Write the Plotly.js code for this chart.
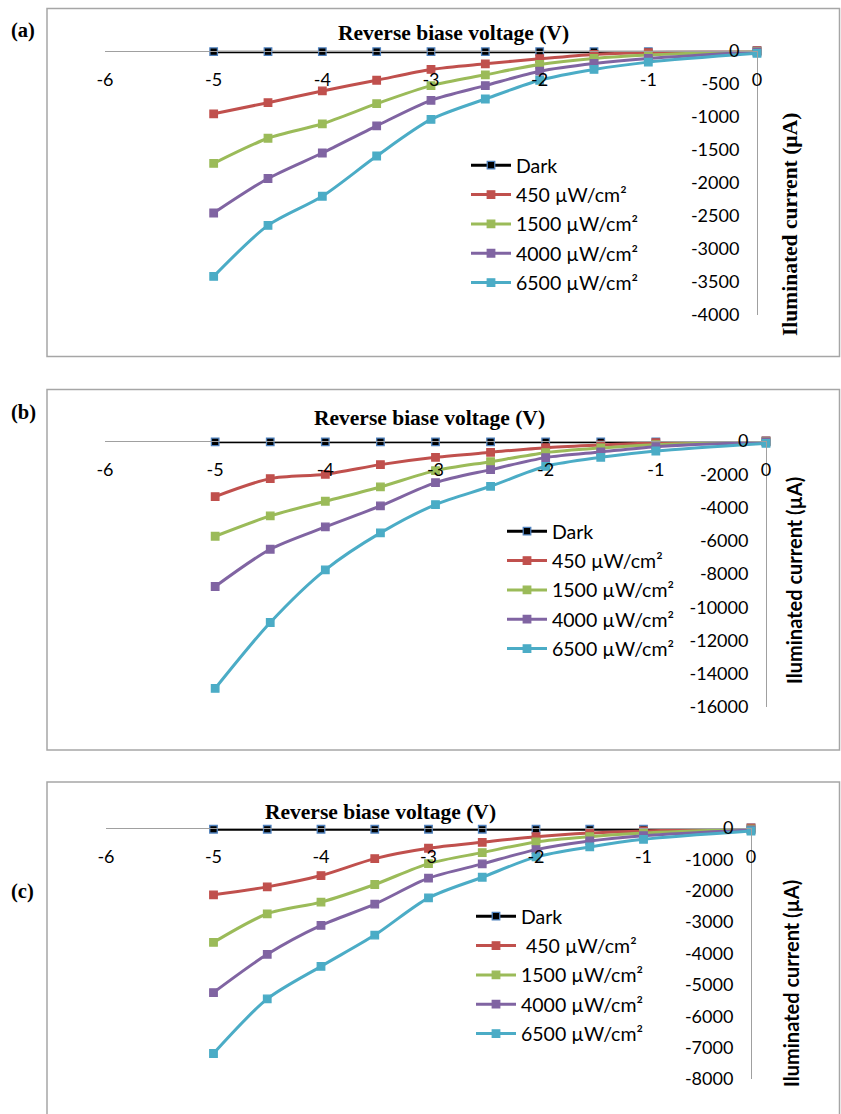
<!DOCTYPE html>
<html>
<head>
<meta charset="utf-8">
<script src="https://cdn.plot.ly/plotly-3.0.1.min.js"></script>
<style>html,body{margin:0;padding:0;background:#fff;}#chart{width:841px;height:1114px;}</style>
</head>
<body>
<div id="chart"></div>
<script>
// ---- data ----
const voltage = [-5, -4.5, -4, -3.5, -3, -2.5, -2, -1.5, -1, 0];
const seriesNames = ['Dark', '450 µW/cm²', '1500 µW/cm²', '4000 µW/cm²', '6500 µW/cm²'];
const seriesNamesC = ['Dark', '\u00a0450 µW/cm²', '1500 µW/cm²', '4000 µW/cm²', '6500 µW/cm²'];

const aDark = [-15, -15, -15, -15, -15, -15, -15, -15, -15, 0];
const a450  = [-955, -787, -609, -447, -284, -198, -122, -56, -28, 0];
const a1500 = [-1705, -1325, -1106, -802, -528, -365, -208, -117, -66, -10];
const a4000 = [-2456, -1934, -1548, -1137, -751, -528, -310, -193, -117, -20];
const a6500 = [-3416, -2644, -2203, -1594, -1040, -731, -447, -284, -173, -40];

const bDark = [-50, -50, -50, -50, -50, -50, -50, -50, -50, 0];
const b450  = [-3345, -2263, -2003, -1422, -981, -681, -400, -240, -100, 0];
const b1500 = [-5728, -4507, -3625, -2764, -1783, -1242, -701, -421, -220, -40];
const b4000 = [-8753, -6510, -5168, -3906, -2504, -1723, -1001, -661, -340, -60];
const b6500 = [-14882, -10916, -7752, -5528, -3826, -2724, -1522, -981, -601, -140];

const cDark = [-40, -40, -40, -40, -40, -40, -40, -40, -40, 0];
const c450  = [-2130, -1876, -1515, -975, -646, -456, -276, -159, -95, 0];
const c1500 = [-3645, -2734, -2363, -1801, -1134, -784, -445, -276, -159, -40];
const c4000 = [-5245, -4026, -3105, -2427, -1600, -1145, -689, -413, -244, -60];
const c6500 = [-7187, -5448, -4410, -3413, -2226, -1569, -922, -604, -360, -95];

const xTickVals = [-6, -5, -4, -3, -2, -1, 0];
const xTickText = ['-6', '-5', '-4', '-3', '-2', '-1', '0'];
const aYTickVals = [0, -500, -1000, -1500, -2000, -2500, -3000, -3500, -4000];
const aYTickText = ['0', '-500', '-1000', '-1500', '-2000', '-2500', '-3000', '-3500', '-4000'];
const bYTickVals = [0, -2000, -4000, -6000, -8000, -10000, -12000, -14000, -16000];
const bYTickText = ['0', '-2000', '-4000', '-6000', '-8000', '-10000', '-12000', '-14000', '-16000'];
const cYTickVals = [0, -1000, -2000, -3000, -4000, -5000, -6000, -7000, -8000];
const cYTickText = ['0', '-1000', '-2000', '-3000', '-4000', '-5000', '-6000', '-7000', '-8000'];

const xTitle = 'Reverse biase voltage (V)';
const yTitle = 'Iluminated current (µA)';
const panelLabels = ['(a)', '(b)', '(c)'];

// ---- styles ----
const W = 841, H = 1114;
const px = v => v / W;
const py = v => 1 - v / H;
const colors = ['#000000', '#C0504D', '#9BBB59', '#8064A2', '#4BACC6'];
const markerLine = ['#4F81BD', '#C0504D', '#9BBB59', '#8064A2', '#4BACC6'];

function makeTraces(sets, names, xa, ya, leg, grp) {
  return sets.map((ys, i) => ({
    type: 'scatter', mode: 'lines+markers',
    x: voltage, y: ys, xaxis: xa, yaxis: ya,
    name: names[i], legend: leg, legendgroup: grp + i,
    line: {color: colors[i], width: 3, shape: 'spline', smoothing: 0.8},
    marker: {symbol: 'square', size: 7.5, color: colors[i], line: {color: markerLine[i], width: 1.3}},
    cliponaxis: false
  }));
}

const data = [].concat(
  makeTraces([aDark, a450, a1500, a4000, a6500], seriesNames, 'x', 'y', 'legend', 'a'),
  makeTraces([bDark, b450, b1500, b4000, b6500], seriesNames, 'x2', 'y2', 'legend2', 'b'),
  makeTraces([cDark, c450, c1500, c4000, c6500], seriesNamesC, 'x3', 'y3', 'legend3', 'c')
);

const tickFont = {family: 'Lato, sans-serif', size: 18, color: '#000'};
function xAxis(x0, x1, yline) {
  return {domain: [px(x0), px(x1)], range: [-6, 0], anchor: 'free', position: py(yline), side: 'bottom',
    showline: true, linecolor: '#a0a0a0', linewidth: 1.2, showgrid: false, zeroline: false, ticks: '',
    tickmode: 'array', tickvals: xTickVals, ticktext: xTickText, tickfont: tickFont, ticklabelstandoff: 12, fixedrange: true};
}
function yAxis(y0, y1, xline, rng, tv, tt) {
  return {domain: [py(y1), py(y0)], range: rng, anchor: 'free', position: px(xline), side: 'left',
    showline: true, linecolor: '#a0a0a0', linewidth: 1.2, showgrid: false, zeroline: false, ticks: '',
    tickmode: 'array', tickvals: tv, ticktext: tt, tickfont: tickFont, ticklabelstandoff: 14, fixedrange: true};
}
const legFont = {family: 'Lato, sans-serif', size: 19.5, color: '#000'};
function legend(x, y) {
  return {x: px(x), y: py(y), xanchor: 'left', yanchor: 'top', bgcolor: 'rgba(0,0,0,0)', font: legFont,
    tracegroupgap: 1, itemwidth: 40, traceorder: 'grouped'};
}

function ann(text, x, y, font, angle) {
  return {text: text, x: px(x), y: py(y), xref: 'paper', yref: 'paper', showarrow: false,
    xanchor: 'center', yanchor: 'middle', font: font, textangle: angle || 0};
}
const serifBold = {family: 'Liberation Serif, Times New Roman, serif', size: 21.5, color: '#000', weight: 'bold'};
const sansBold = {family: 'Lato, sans-serif', size: 20, color: '#000', weight: 'bold'};
const labelFont = {family: 'Liberation Serif, Times New Roman, serif', size: 20.5, color: '#000', weight: 'bold'};

const boxLine = {color: '#a6a6a6', width: 1.5};
const layout = {
  width: W, height: H, margin: {l: 0, r: 0, t: 0, b: 0},
  paper_bgcolor: '#fff', plot_bgcolor: 'rgba(0,0,0,0)', showlegend: true,
  xaxis: xAxis(105, 757, 50.7),
  yaxis: yAxis(50.7, 315, 757, [-4000, 0], aYTickVals, aYTickText),
  xaxis2: xAxis(105, 766, 441),
  yaxis2: yAxis(441, 707, 766, [-16000, 0], bYTickVals, bYTickText),
  xaxis3: xAxis(106, 751, 828),
  yaxis3: yAxis(828, 1079, 751, [-8000, 0], cYTickVals, cYTickText),
  legend: legend(466, 146),
  legend2: legend(502, 512),
  legend3: legend(471, 897),
  shapes: [
    {type: 'rect', xref: 'paper', yref: 'paper', x0: px(47), x1: px(839.5), y0: py(356.5), y1: py(8.5), line: boxLine},
    {type: 'rect', xref: 'paper', yref: 'paper', x0: px(47), x1: px(839.5), y0: py(750), y1: py(389.5), line: boxLine},
    {type: 'rect', xref: 'paper', yref: 'paper', x0: px(47), x1: px(839.5), y0: py(1130), y1: py(782), line: boxLine}
  ],
  annotations: [
    ann(xTitle, 453, 33, serifBold),
    ann(xTitle, 429, 418, serifBold),
    ann(xTitle, 380, 812, serifBold),
    ann(yTitle, 790, 225, serifBold, -90),
    ann(yTitle, 794, 581, sansBold, -90),
    ann(yTitle, 791, 984, sansBold, -90),
    ann(panelLabels[0], 23, 31, labelFont),
    ann(panelLabels[1], 23, 412, labelFont),
    ann(panelLabels[2], 22, 891, labelFont)
  ]
};

Plotly.newPlot('chart', data, layout, {displayModeBar: false, staticPlot: true});
</script>
</body>
</html>
